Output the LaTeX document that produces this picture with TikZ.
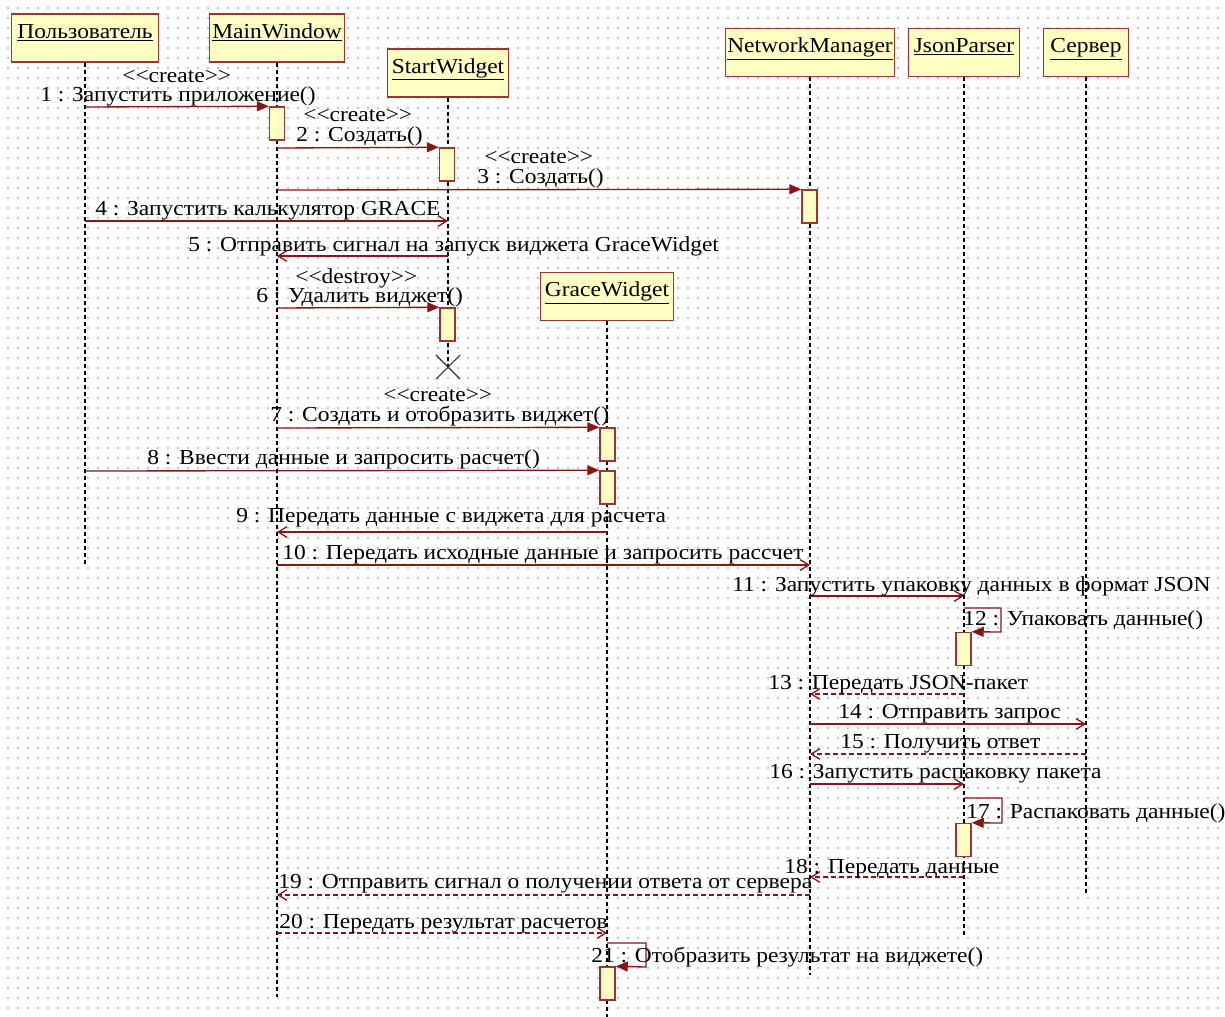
\documentclass[tikz,border=0pt]{standalone}
\usepackage{fontspec}
\setmainfont{Liberation Serif}[FakeStretch=1.1]
\usetikzlibrary{arrows.meta}
\definecolor{boxfill}{RGB}{255,255,196}
\definecolor{boxdraw}{RGB}{160,50,50}
\definecolor{msgcol}{RGB}{140,20,20}
\definecolor{griddot}{RGB}{195,195,195}
\begin{document}
\begin{tikzpicture}[x=0.75pt,y=-0.75pt,
  every node/.style={font=\fontsize{16}{18}\selectfont},
  head/.style={draw=boxdraw, fill=boxfill, line width=1.1pt, inner xsep=0pt, inner ysep=0pt,
    text height=18pt, text depth=18pt, minimum height=36pt},
  act/.style={draw=boxdraw, fill=boxfill, line width=1.1pt, minimum width=11.25pt,
    minimum height=24.75pt, inner sep=0pt},
  life/.style={black, line width=1.1pt, dash pattern=on 3pt off 2.25pt},
  sync/.style={msgcol, line width=1pt, -{Triangle[length=9pt,width=7.5pt]}},
  async/.style={msgcol, line width=1pt, -{Straight Barb[length=6.5pt,width=8pt]}},
  reply/.style={async, dash pattern=on 3.75pt off 2.25pt},
  lbl/.style={inner sep=0pt, anchor=base west},
  stereo/.style={lbl, text depth=0pt}]
\useasboundingbox (0,0) rectangle (1225,1017);
\fill[white] (0,0) rectangle (1225,1017);
% dotted grid
\foreach \gy in {8,18,...,1008}
  \draw[griddot, line width=0.9pt, dash pattern=on 0.9pt off 6.6pt] (7.4,\gy) -- (1225,\gy);

% lifeline ends
\coordinate (userEnd) at (85,565);
\coordinate (mainEnd) at (277,997);
\coordinate (startEnd) at (448,367);
\coordinate (graceEnd) at (607,1017);
\coordinate (netEnd) at (810,975);
\coordinate (jsonEnd) at (964,938);
\coordinate (servEnd) at (1086,893);

% headers
\node[head, minimum width=110.25pt] (user) at (85,38) {\underline{Пользователь}};
\node[head, minimum width=101.25pt] (main) at (277,38) {\underline{MainWindow}};
\node[head, minimum width=90.75pt] (start) at (448,73) {\underline{StartWidget}};
\node[head, minimum width=99.75pt] (grace) at (607,296.5) {\underline{GraceWidget}};
\node[head, minimum width=126.75pt] (net) at (810,52.5) {\underline{NetworkManager}};
\node[head, minimum width=83.25pt] (json) at (964,52.5) {\underline{JsonParser}};
\node[head, minimum width=63.4pt] (serv) at (1086,52.5) {\underline{Сервер}};

% lifelines
\draw[life] (user.south) -- (userEnd);
\draw[life] (main.south) -- (mainEnd);
\draw[life] (start.south) -- (startEnd);
\draw[life] (grace.south) -- (graceEnd);
\draw[life] (net.south) -- (netEnd);
\draw[life] (json.south) -- (jsonEnd);
\draw[life] (serv.south) -- (servEnd);
\draw[black!80, line width=0.8pt] (startEnd) ++(-12,-12) -- ++(24,24) ++(-24,0) -- ++(24,-24);

% activations
\node[act] (a1) at (277,123.5) {};
\node[act] (a2) at (447,164.5) {};
\node[act] (a3) at (809.5,206.5) {};
\node[act] (a4) at (447.5,324.5) {};
\node[act] (a5) at (607.5,444.5) {};
\node[act] (a6) at (607.5,487.5) {};
\node[act] (a7) at (963.5,649) {};
\node[act] (a8) at (963.5,840) {};
\node[act] (a9) at (607.5,983.5) {};

% message end points
\coordinate (m1) at (85,107);
\coordinate (m2) at (277,148);
\coordinate (m3) at (277,190);
\coordinate (m4a) at (85,221);   \coordinate (m4b) at (448,221);
\coordinate (m5a) at (448,256);  \coordinate (m5b) at (277,256);
\coordinate (m6) at (277,308);
\coordinate (m7) at (277,428);
\coordinate (m8) at (85,471);
\coordinate (m9a) at (607,532);  \coordinate (m9b) at (277,532);
\coordinate (m10a) at (277,565); \coordinate (m10b) at (810,565);
\coordinate (m11a) at (810,596); \coordinate (m11b) at (964,596);
\coordinate (s12a) at (964,608); \coordinate (s12b) at (1001,608); \coordinate (s12c) at (1001,632);
\coordinate (m13a) at (964,694); \coordinate (m13b) at (810,694);
\coordinate (m14a) at (810,724); \coordinate (m14b) at (1086,724);
\coordinate (m15a) at (1086,754); \coordinate (m15b) at (810,754);
\coordinate (m16a) at (810,784); \coordinate (m16b) at (964,784);
\coordinate (s17a) at (964,798); \coordinate (s17b) at (1002,798); \coordinate (s17c) at (1002,823);
\coordinate (m18a) at (964,877); \coordinate (m18b) at (810,877);
\coordinate (m19a) at (810,895); \coordinate (m19b) at (277,895);
\coordinate (m20a) at (277,933); \coordinate (m20b) at (607,933);
\coordinate (s21a) at (607,943); \coordinate (s21b) at (646,943); \coordinate (s21c) at (646,967);

% messages
\draw[sync] (m1) -- (a1.north west);
\draw[sync] (m2) -- (a2.north west);
\draw[sync] (m3) -- (a3.north west);
\draw[async] (m4a) -- (m4b);
\draw[async] (m5a) -- (m5b);
\draw[sync] (m6) -- (a4.north west);
\draw[sync] (m7) -- (a5.north west);
\draw[sync] (m8) -- (a6.north west);
\draw[async] (m9a) -- (m9b);
\draw[async] (m10a) -- (m10b);
\draw[async] (m11a) -- (m11b);
\draw[sync] (s12a) -- (s12b) -- (s12c) -- (a7.north east);
\draw[reply] (m13a) -- (m13b);
\draw[async] (m14a) -- (m14b);
\draw[reply] (m15a) -- (m15b);
\draw[async] (m16a) -- (m16b);
\draw[sync] (s17a) -- (s17b) -- (s17c) -- (a8.north east);
\draw[reply] (m18a) -- (m18b);
\draw[reply] (m19a) -- (m19b);
\draw[reply] (m20a) -- (m20b);
\draw[sync] (s21a) -- (s21b) -- (s21c) -- (a9.north east);

% labels
\node[stereo] (l1s) at (122,82) {<{}<create>{}>};
\node[lbl] (l1) at (40,101) {1 : Запустить приложение()};
\node[stereo] (l2s) at (303,121.5) {<{}<create>{}>};
\node[lbl] (l2) at (296,141.5) {2 : Создать()};
\node[stereo] (l3s) at (484,163.5) {<{}<create>{}>};
\node[lbl] (l3) at (477,183.5) {3 : Создать()};
\node[lbl] (l4) at (95,215) {4 : Запустить калькулятор GRACE};
\node[lbl] (l5) at (188,251) {5 : Отправить сигнал на запуск виджета GraceWidget};
\node[stereo] (l6s) at (295,283) {<{}<destroy>{}>};
\node[lbl] (l6) at (256,302) {6 : Удалить виджет()};
\node[stereo] (l7s) at (383,401) {<{}<create>{}>};
\node[lbl] (l7) at (270,421) {7 : Создать и отобразить виджет()};
\node[lbl] (l8) at (147,464) {8 : Ввести данные и запросить расчет()};
\node[lbl] (l9) at (236,522) {9 : Передать данные с виджета для расчета};
\node[lbl] (l10) at (282,559) {10 : Передать исходные данные и запросить рассчет};
\node[lbl] (l11) at (732,591) {11 : Запустить упаковку данных в формат JSON};
\node[lbl] (l12) at (963,625) {12 : Упаковать данные()};
\node[lbl] (l13) at (768,689) {13 : Передать JSON-пакет};
\node[lbl] (l14) at (838,718) {14 : Отправить запрос};
\node[lbl] (l15) at (840,748) {15 : Получить ответ};
\node[lbl] (l16) at (769,778) {16 : Запустить распаковку пакета};
\node[lbl] (l17) at (966,818) {17 : Распаковать данные()};
\node[lbl] (l18) at (784,873) {18 : Передать данные};
\node[lbl] (l19) at (278,888) {19 : Отправить сигнал о получении ответа от сервера};
\node[lbl] (l20) at (279,928) {20 : Передать результат расчетов};
\node[lbl] (l21) at (591,962) {21 : Отобразить результат на виджете()};
\end{tikzpicture}
\end{document}
